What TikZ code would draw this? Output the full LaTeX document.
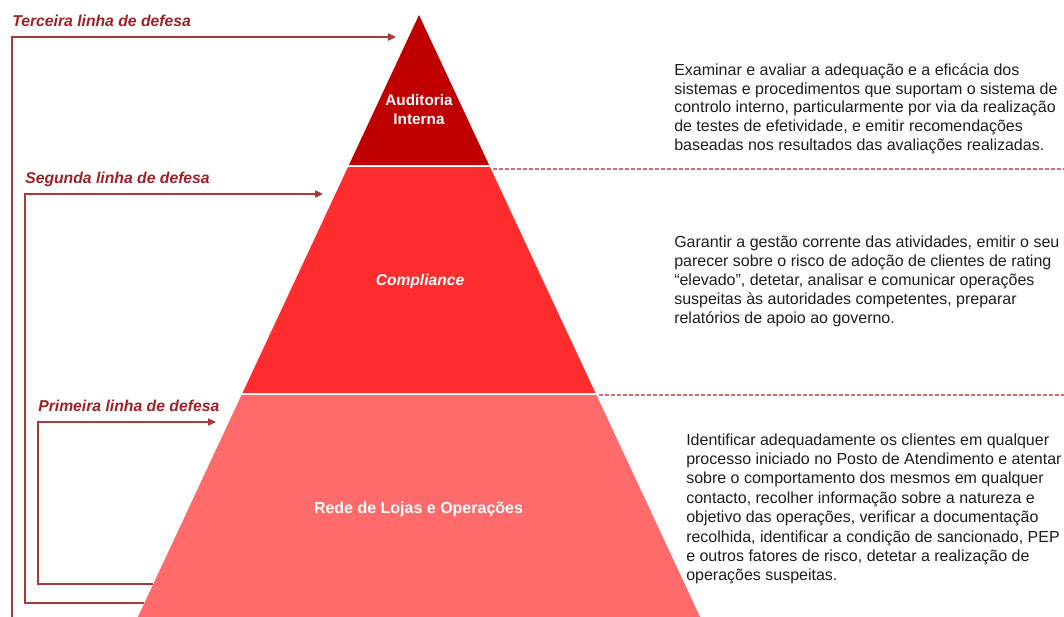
\documentclass[tikz,border=0pt]{standalone}
\usepackage{fontspec}
\setmainfont{Liberation Sans}
\usetikzlibrary{arrows.meta}
\definecolor{lvlA}{HTML}{C00000}
\definecolor{lvlB}{HTML}{FF2D2D}
\definecolor{lvlC}{HTML}{FF6A6A}
\definecolor{lblred}{HTML}{A31F24}
\definecolor{linered}{HTML}{A83A3A}
\definecolor{dashred}{HTML}{D27070}
\definecolor{bodytxt}{HTML}{1E1E1E}
\begin{document}
\begin{tikzpicture}[x=0.75pt,y=-0.75pt,
  linelabel/.style={anchor=base west,inner sep=0pt,text=lblred,
    font=\fontsize{11.8}{13.8}\selectfont\bfseries\itshape},
  levellabel/.style={inner sep=0pt,text=white,align=center,
    font=\fontsize{11.5}{14.25}\selectfont\bfseries},
  bodyblock/.style={anchor=base west,inner sep=0pt,text=bodytxt,
    font=\fontsize{12}{14.25}\selectfont},
  bracket/.style={draw=linered,line width=0.9pt},
  bracketarrow/.style={bracket,-{Triangle[length=6pt,width=5.5pt]}},
  sep/.style={draw=dashred,line width=0.9pt,dash pattern=on 3pt off 1.5pt}]
\useasboundingbox (0,0) rectangle (1064,617);

% pyramid layers
\fill[lvlA] (419,15) -- (489.05,165) -- (348.95,165) -- cycle;
\fill[lvlB] (348.0,167) -- (490.0,167) -- (595.5,393) -- (242.5,393) -- cycle;
\fill[lvlC] (241.5,395) -- (596.5,395) -- (700.1,617) -- (137.9,617) -- cycle;

% level labels
\node[levellabel] (audit) at (419,110) {Auditoria\\Interna};
\node[levellabel,font=\fontsize{11.7}{14.25}\selectfont\bfseries\itshape] (compl) at (420,281) {Compliance};
\node[levellabel,font=\fontsize{12}{14.25}\selectfont\bfseries] (rede) at (418.5,509) {Rede de Lojas e Operações};

% dashed separators
\coordinate (d1a) at (493,169);
\coordinate (d1b) at (1064,169);
\coordinate (d2a) at (599,395);
\coordinate (d2b) at (1064,395);
\draw[sep] (d1a) -- (d1b);
\draw[sep] (d2a) -- (d2b);

% line labels
\node[linelabel] (l3) at (12,26.5) {Terceira linha de defesa};
\node[linelabel] (l2) at (25,183) {Segunda linha de defesa};
\node[linelabel] (l1) at (38,411) {Primeira linha de defesa};

% brackets
\coordinate (t0) at (12,617);
\coordinate (t1) at (12,37);
\coordinate (t2) at (396,37);
\draw[bracketarrow] (t0) -- (t1) -- (t2);

\coordinate (s0) at (144,603);
\coordinate (s1) at (25,603);
\coordinate (s2) at (25,194);
\coordinate (s3) at (323,194);
\draw[bracketarrow] (s0) -- (s1) -- (s2) -- (s3);

\coordinate (p0) at (153,584);
\coordinate (p1) at (38,584);
\coordinate (p2) at (38,422);
\coordinate (p3) at (216,422);
\draw[bracketarrow] (p0) -- (p1) -- (p2) -- (p3);

% descriptions
\node[bodyblock] (txtA) at (674,75) {\begin{tabular}[t]{@{}l@{}}
Examinar e avaliar a adequação e a eficácia dos\\
sistemas e procedimentos que suportam o sistema de\\
controlo interno, particularmente por via da realização\\
de testes de efetividade, e emitir recomendações\\
baseadas nos resultados das avaliações realizadas.
\end{tabular}};
\node[bodyblock] (txtB) at (674,247) {\begin{tabular}[t]{@{}l@{}}
Garantir a gestão corrente das atividades, emitir o seu\\
parecer sobre o risco de adoção de clientes de rating\\
“elevado”, detetar, analisar e comunicar operações\\
suspeitas às autoridades competentes, preparar\\
relatórios de apoio ao governo.
\end{tabular}};
\node[bodyblock,font=\fontsize{12}{14.55}\selectfont] (txtC) at (686,445) {\begin{tabular}[t]{@{}l@{}}
Identificar adequadamente os clientes em qualquer\\
processo iniciado no Posto de Atendimento e atentar\\
sobre o comportamento dos mesmos em qualquer\\
contacto, recolher informação sobre a natureza e\\
objetivo das operações, verificar a documentação\\
recolhida, identificar a condição de sancionado, PEP\\
e outros fatores de risco, detetar a realização de\\
operações suspeitas.
\end{tabular}};
\end{tikzpicture}
\end{document}
